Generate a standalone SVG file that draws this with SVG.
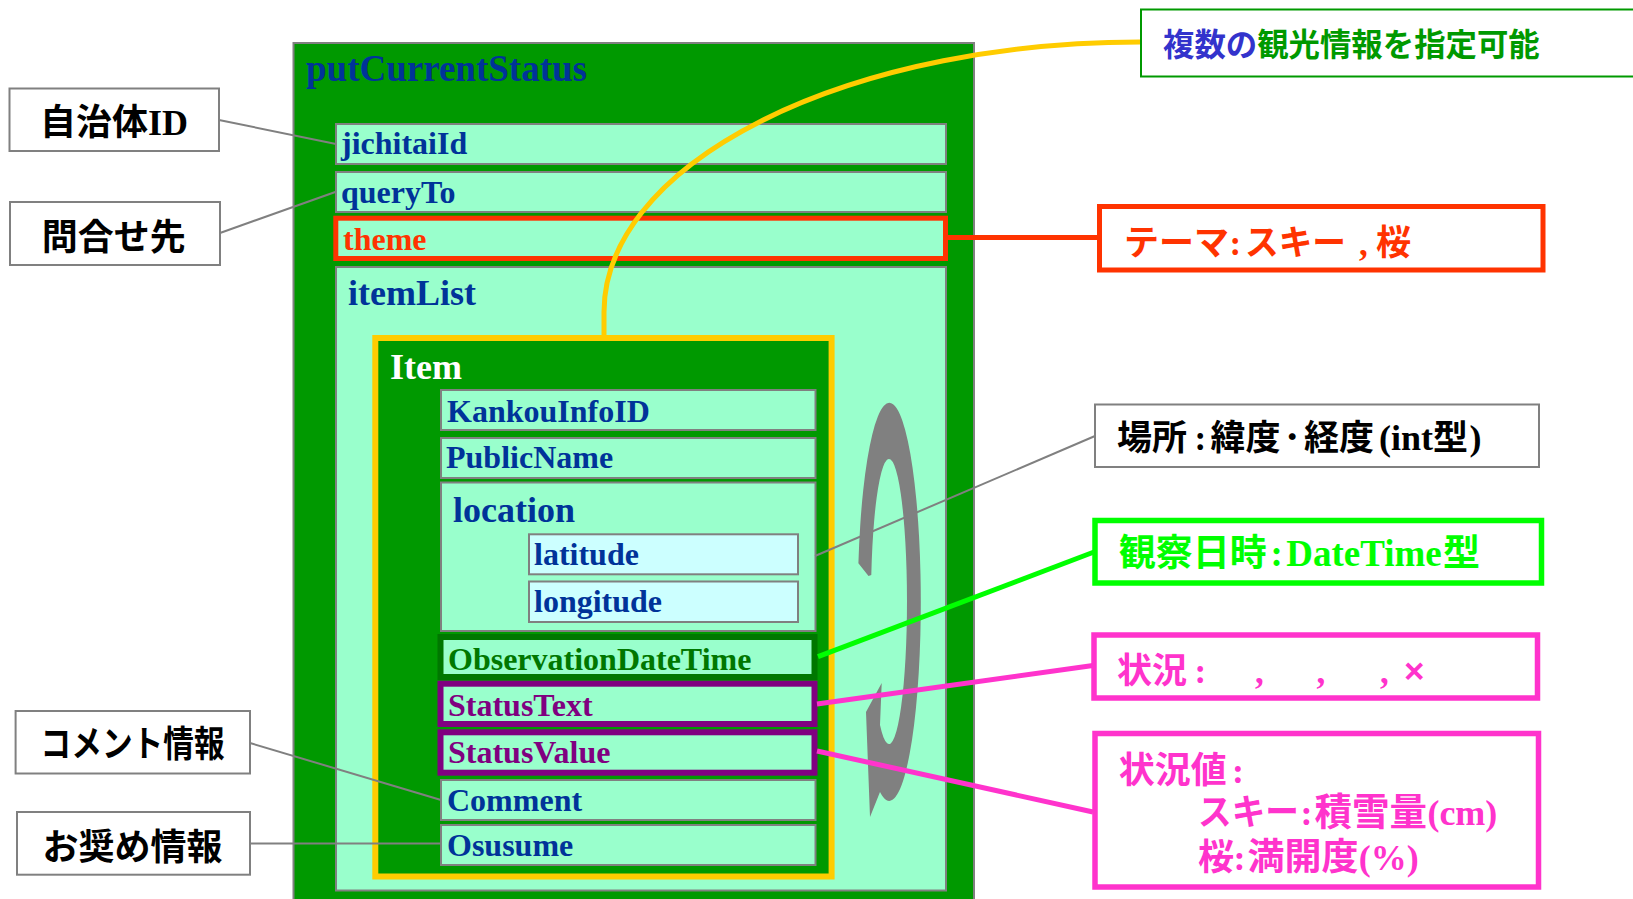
<svg xmlns="http://www.w3.org/2000/svg" width="1633" height="899" viewBox="0 0 1633 899">
<style>
.fld{fill:#99ffcc;stroke:#808080;stroke-width:2}
.sub{fill:#ccffff;stroke:#808080;stroke-width:2}
.lbl{fill:#ffffff;stroke:#808080;stroke-width:2}
.t{font-family:"Liberation Serif","Times New Roman",serif;font-weight:bold;font-size:32px;fill:#003399}
.big{font-size:36px}
.jp{font-family:"Noto Sans CJK JP","Noto Sans CJK SC",sans-serif;font-weight:bold}
.lat{font-family:"Liberation Serif","Noto Sans CJK JP",serif;font-weight:bold}
.gl{stroke:#808080;stroke-width:2;fill:none}
</style>
<rect width="1633" height="899" fill="#ffffff"/>

<g id="putCurrentStatus">
  <rect x="293.5" y="43" width="680.5" height="880" fill="#009900" stroke="#808080" stroke-width="2"/>
  <text class="t" x="306" y="81" style="font-size:37px">putCurrentStatus</text>
</g>
<g id="jichitaiId">
  <rect class="fld" x="336" y="124" width="610" height="40"/>
  <text class="t" x="341" y="154">jichitaiId</text>
</g>
<g id="queryTo">
  <rect class="fld" x="336" y="172" width="610" height="40"/>
  <text class="t" x="341" y="202.5">queryTo</text>
</g>
<g id="theme">
  <rect x="335.8" y="218.2" width="609.7" height="40.3" fill="#99ffcc" stroke="#ff3300" stroke-width="5"/>
  <text class="t" x="343" y="249.5" style="fill:#ff3300">theme</text>
</g>
<g id="itemList">
  <rect class="fld" x="336" y="267" width="610" height="623.5"/>
  <text class="t big" x="348" y="305">itemList</text>
</g>
<g id="Item">
  <rect x="375.3" y="338" width="456.3" height="538.5" fill="#009900" stroke="#ffcc00" stroke-width="6"/>
  <text class="t big" x="390" y="379" style="fill:#ffffff">Item</text>
</g>
<g id="KankouInfoID">
  <rect class="fld" x="441" y="390" width="374.5" height="40"/>
  <text class="t" x="447" y="421.5">KankouInfoID</text>
</g>
<g id="PublicName">
  <rect class="fld" x="441" y="438" width="374.5" height="40"/>
  <text class="t" x="446" y="468">PublicName</text>
</g>
<g id="location">
  <rect class="fld" x="441" y="482.5" width="374.5" height="148.5"/>
  <text class="t big" x="453" y="521.5">location</text>
</g>
<g id="latitude">
  <rect class="sub" x="529" y="534.3" width="269" height="40"/>
  <text class="t" x="534" y="565">latitude</text>
</g>
<g id="longitude">
  <rect class="sub" x="529" y="581.5" width="269" height="40.5"/>
  <text class="t" x="534" y="611.5">longitude</text>
</g>
<g id="ObservationDateTime">
  <rect x="440.5" y="637" width="374" height="40" fill="#99ffcc" stroke="#007700" stroke-width="6"/>
  <text class="t" x="448" y="670" style="fill:#007700">ObservationDateTime</text>
</g>
<g id="StatusText">
  <rect x="440.5" y="683.7" width="374" height="40.3" fill="#99ffcc" stroke="#800080" stroke-width="6"/>
  <text class="t" x="448" y="716" style="fill:#800080">StatusText</text>
</g>
<g id="StatusValue">
  <rect x="440.5" y="732.3" width="374" height="40.4" fill="#99ffcc" stroke="#800080" stroke-width="6"/>
  <text class="t" x="448" y="763.3" style="fill:#800080">StatusValue</text>
</g>
<g id="Comment">
  <rect class="fld" x="441" y="780" width="374.5" height="40"/>
  <text class="t" x="447" y="811">Comment</text>
</g>
<g id="Osusume">
  <rect class="fld" x="441" y="825" width="374.5" height="40"/>
  <text class="t" x="447" y="855.5">Osusume</text>
</g>

<g id="loop-arrow">
  <path d="M858.4,563.3 A31.5,199 0 1 1 880,792 L870,817 L866,712 L881.7,683 L880,725 A18,142.5 0 1 0 871.3,575 L868.5,576 Z" fill="#808080"/>
</g>

<g id="connectors" fill="none">
  <line class="gl" x1="219" y1="120" x2="336" y2="144"/>
  <line class="gl" x1="220" y1="233" x2="336" y2="191.7"/>
  <line class="gl" x1="250" y1="743" x2="441" y2="800"/>
  <line class="gl" x1="250" y1="843.6" x2="441" y2="843.6"/>
  <line class="gl" x1="815" y1="556" x2="1095" y2="436"/>
  <path d="M604,336 L604,312 A536,270 0 0 1 1141,42" stroke="#ffcc00" stroke-width="5"/>
  <line x1="948" y1="237.5" x2="1099.5" y2="237.5" stroke="#ff3300" stroke-width="5"/>
  <line x1="818" y1="656.7" x2="1094" y2="552" stroke="#00ff00" stroke-width="5"/>
  <line x1="817" y1="704" x2="1093" y2="665.5" stroke="#ff33cc" stroke-width="5"/>
  <line x1="817" y1="751" x2="1093" y2="812" stroke="#ff33cc" stroke-width="5"/>
</g>

<g id="label-jichitai">
  <rect class="lbl" x="9.5" y="88.5" width="209.5" height="62.5"/>
  <text y="135" style="font-size:36px;fill:#000000"><tspan class="jp" x="40">自治体</tspan><tspan class="lat">ID</tspan></text>
</g>
<g id="label-toiawase">
  <rect class="lbl" x="10" y="202" width="210" height="63"/>
  <text class="jp" x="41.7" y="250" style="font-size:36px;fill:#000000">問合せ先</text>
</g>
<g id="label-comment">
  <rect class="lbl" x="15.6" y="711" width="234.4" height="62.5"/>
  <text class="jp" x="40.6" y="757.4" textLength="184" lengthAdjust="spacingAndGlyphs" style="font-size:36px;fill:#000000">コメント情報</text>
</g>
<g id="label-osusume">
  <rect class="lbl" x="17" y="812" width="233" height="62.7"/>
  <text class="jp" x="42.5" y="859.5" style="font-size:36px;fill:#000000">お奨め情報</text>
</g>

<g id="label-multiple">
  <rect x="1141" y="9.5" width="510" height="67" fill="#ffffff" stroke="#009900" stroke-width="2"/>
  <text class="jp" x="1163" y="56.3" style="font-size:31.4px"><tspan fill="#3333cc">複数の</tspan><tspan fill="#009900">観光情報を指定可能</tspan></text>
</g>
<g id="label-theme">
  <rect x="1099.5" y="206.5" width="443.5" height="63.5" fill="#ffffff" stroke="#ff3300" stroke-width="5"/>
  <text y="255" style="font-size:35px;fill:#ff3300"><tspan class="jp" x="1124">テーマ</tspan><tspan class="lat" x="1229.5">:</tspan><tspan class="jp" x="1245" textLength="101" lengthAdjust="spacingAndGlyphs">スキー</tspan><tspan class="lat" x="1359">,</tspan><tspan class="jp" x="1376">桜</tspan></text>
</g>
<g id="label-location">
  <rect x="1095" y="404.5" width="444" height="62.5" fill="#ffffff" stroke="#808080" stroke-width="2"/>
  <text y="450" style="font-size:35px;fill:#000000"><tspan class="jp" x="1117">場所</tspan><tspan class="lat" x="1194.5">:</tspan><tspan class="jp" x="1210.5">緯度</tspan><tspan class="jp" x="1283.5">･</tspan><tspan class="jp" x="1304">経度</tspan><tspan class="lat" x="1379" style="font-size:36px">(int</tspan><tspan class="jp" x="1433">型</tspan><tspan class="lat" x="1469.5" style="font-size:36px">)</tspan></text>
</g>
<g id="label-datetime">
  <rect x="1095" y="520.5" width="446.5" height="62.5" fill="#ffffff" stroke="#00ff00" stroke-width="5.5"/>
  <text y="566" style="font-size:37px;fill:#00ff00"><tspan class="jp" x="1118.8">観察日時</tspan><tspan class="lat" x="1270.5">:</tspan><tspan class="lat" x="1286.3">DateTime</tspan><tspan class="jp" x="1443">型</tspan></text>
</g>
<g id="label-status">
  <rect x="1094" y="635" width="443.5" height="63" fill="#ffffff" stroke="#ff33cc" stroke-width="5.5"/>
  <text y="683" style="font-size:35px;fill:#ff33cc"><tspan class="jp" x="1117">状況</tspan><tspan class="lat" x="1194.5">:</tspan><tspan class="lat" x="1255">,</tspan><tspan class="lat" x="1316.5">,</tspan><tspan class="lat" x="1380">,</tspan><tspan class="jp" x="1404" style="font-family:'Liberation Sans',sans-serif">×</tspan></text>
</g>
<g id="label-statusvalue">
  <rect x="1095" y="733.5" width="443.5" height="153.5" fill="#ffffff" stroke="#ff33cc" stroke-width="5.5"/>
  <text style="font-size:36px;fill:#ff33cc"><tspan class="jp" x="1118.8" y="782.7">状況値</tspan><tspan class="lat" x="1232" y="782.7">:</tspan><tspan class="jp" x="1198" y="824.5" textLength="101" lengthAdjust="spacingAndGlyphs">スキー</tspan><tspan class="lat" x="1300.5" y="824.5">:</tspan><tspan class="jp" x="1314.6" y="824.5" style="font-size:37.5px">積雪量</tspan><tspan class="lat" x="1427.4" y="824.5">(cm)</tspan><tspan class="jp" x="1198" y="869.5">桜</tspan><tspan class="lat" x="1233.5" y="869.5">:</tspan><tspan class="jp" x="1247.5" y="869.5" style="font-size:37px">満開度</tspan><tspan class="lat" x="1358.7" y="869.5">(%)</tspan></text>
</g>
</svg>
